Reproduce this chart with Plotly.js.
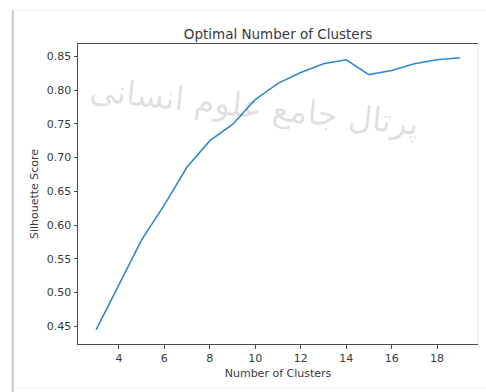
<!DOCTYPE html>
<html>
<head>
<meta charset="utf-8">
<script src="https://cdn.plot.ly/plotly-3.0.1.min.js"></script>
<style>
  html, body { margin: 0; padding: 0; background: #ffffff; }
  #chart { width: 486px; height: 392px; }
</style>
</head>
<body>
<div id="chart"></div>
<script>
// Silhouette score for each candidate cluster count
const clusterCounts = [3, 4, 5, 6, 7, 8, 9, 10, 11, 12, 13, 14, 15, 16, 17, 18, 19];
const silhouetteScores = [0.445, 0.512, 0.578, 0.630, 0.686, 0.725, 0.749, 0.786, 0.810, 0.826, 0.839, 0.845, 0.823, 0.829, 0.839, 0.845, 0.848];

const xTicks = [4, 6, 8, 10, 12, 14, 16, 18];
const yTicks = [0.45, 0.50, 0.55, 0.60, 0.65, 0.70, 0.75, 0.80, 0.85];

const chartTitle = 'Optimal Number of Clusters';
const xTitle = 'Number of Clusters';
const yTitle = 'Silhouette Score';
const watermarkText = 'پرتال جامع علوم انسانی';

const font = 'DejaVu Sans, Liberation Sans, sans-serif';
const axisColor = '#4a4a4a';
const textColor = '#3a3a3a';

const trace = {
  x: clusterCounts,
  y: silhouetteScores,
  type: 'scatter',
  mode: 'lines',
  line: { color: '#3089ca', width: 1.6 },
  hoverinfo: 'skip'
};

const layout = {
  width: 486,
  height: 392,
  margin: { l: 78, r: 8, t: 44, b: 48 },
  paper_bgcolor: '#ffffff',
  plot_bgcolor: '#ffffff',
  showlegend: false,
  font: { family: font, color: textColor, size: 11 },
  title: {
    text: chartTitle,
    font: { family: font, size: 13.5, color: textColor },
    xref: 'paper', x: 0.5, xanchor: 'center',
    yref: 'container', y: 1 - 34 / 392, yanchor: 'middle'
  },
  xaxis: {
    range: [2.2, 19.8],
    tickvals: xTicks,
    ticktext: xTicks.map(String),
    showgrid: false, zeroline: false,
    showline: true, linecolor: axisColor, linewidth: 1, mirror: true,
    ticks: 'outside', ticklen: 3.5, tickwidth: 1, tickcolor: axisColor,
    tickfont: { family: font, size: 11, color: textColor },
    title: { text: xTitle, font: { family: font, size: 11, color: textColor }, standoff: 5 }
  },
  yaxis: {
    range: [0.4238, 0.8683],
    tickvals: yTicks,
    ticktext: yTicks.map(v => v.toFixed(2)),
    showgrid: false, zeroline: false,
    showline: true, linecolor: axisColor, linewidth: 1,
    ticks: 'outside', ticklen: 3.5, tickwidth: 1, tickcolor: axisColor,
    tickfont: { family: font, size: 11, color: textColor },
    title: { text: yTitle, font: { family: font, size: 11, color: textColor }, standoff: 5 }
  },
  shapes: [
    // faint right edge of the axes box
    { type: 'line', xref: 'paper', yref: 'paper', x0: 1, x1: 1, y0: 0, y1: 1,
      line: { color: '#e4e4e4', width: 1 } },
    // page border around the figure
    { type: 'line', xref: 'paper', yref: 'paper', x0: -0.163, x1: -0.163, y0: -0.2, y1: 1.113,
      line: { color: '#c8c8c8', width: 2 } },
    { type: 'line', xref: 'paper', yref: 'paper', x0: -0.163, x1: 1.02, y0: 1.113, y1: 1.113,
      line: { color: '#ececec', width: 1 } },
    { type: 'line', xref: 'paper', yref: 'paper', x0: -0.163, x1: 1.02, y0: -0.147, y1: -0.147,
      line: { color: '#efefef', width: 1 } }
  ],
  annotations: [
    {
      text: watermarkText,
      xref: 'paper', yref: 'paper', x: 0.44, y: 0.79,
      xanchor: 'center', yanchor: 'middle',
      textangle: 6, showarrow: false,
      font: { family: 'DejaVu Sans, sans-serif', size: 33, color: 'rgba(0,0,0,0.13)' }
    }
  ]
};

Plotly.newPlot('chart', [trace], layout, { staticPlot: true, displayModeBar: false });
</script>
</body>
</html>
